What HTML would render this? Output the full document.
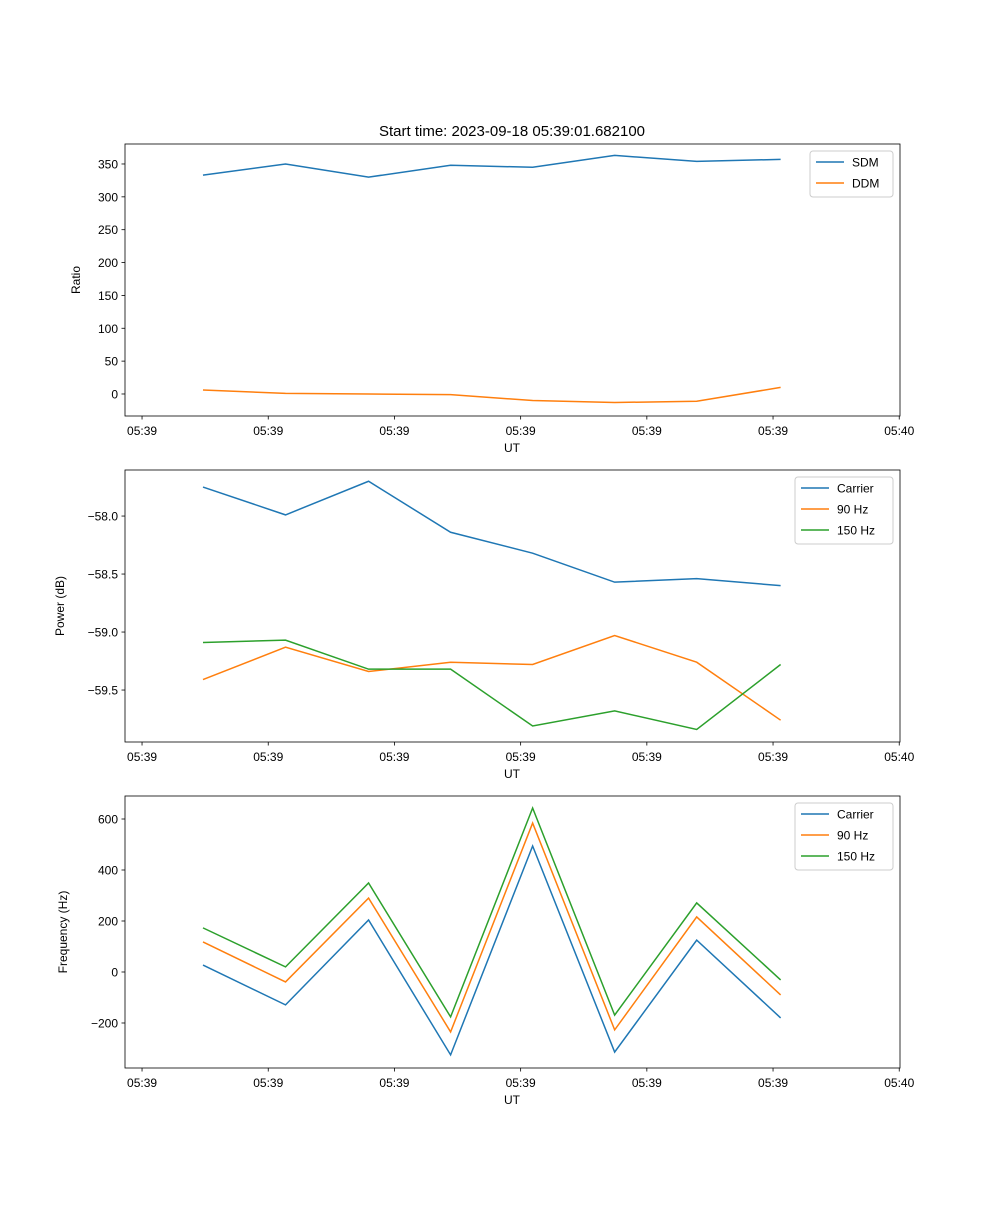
<!DOCTYPE html>
<html><head><meta charset="utf-8"><style>
body{margin:0;background:#fff}
svg{font-family:"Liberation Sans","DejaVu Sans",sans-serif}
</style></head><body>
<svg id="fig" width="1000" height="1200" xmlns="http://www.w3.org/2000/svg">
<rect width="1000" height="1200" fill="#fff"/>
<text x="512" y="136" font-size="15" text-anchor="middle">Start time: 2023-09-18 05:39:01.682100</text>
</svg>
<script>
const times = [1.483, 2.137, 2.795, 3.445, 4.095, 4.745, 5.395, 6.06];
const xTicks = [1, 2, 3, 4, 5, 6, 7];
const xTickLabels = ["05:39","05:39","05:39","05:39","05:39","05:39","05:40"];
const sdm = [333, 350, 330, 348, 345, 363, 354, 357];
const ddm = [6, 1, 0, -1, -10, -13, -11, 10];
const powCarrier = [-57.75, -57.99, -57.70, -58.14, -58.32, -58.57, -58.54, -58.60];
const pow90 = [-59.41, -59.13, -59.34, -59.26, -59.28, -59.03, -59.26, -59.76];
const pow150 = [-59.09, -59.07, -59.32, -59.32, -59.81, -59.68, -59.84, -59.28];
const freqCarrier = [27, -129, 204, -325, 494, -314, 125, -180];
const freq90 = [118, -39, 290, -235, 584, -227, 216, -90];
const freq150 = [173, 20, 349, -176, 643, -169, 271, -31];
const ticks1 = [0, 50, 100, 150, 200, 250, 300, 350];
const ticks2 = [-58.0, -58.5, -59.0, -59.5];
const ticks3 = [-200, 0, 200, 400, 600];

const NS = "http://www.w3.org/2000/svg";
const svg = document.getElementById("fig");
const L = 125, R = 900, X0 = 0.865, X1 = 7.006;
const xs = t => L + (t - X0) / (X1 - X0) * (R - L);
function mk(tag, attrs, parent) {
  const e = document.createElementNS(NS, tag);
  for (const k in attrs) e.setAttribute(k, attrs[k]);
  (parent || svg).appendChild(e);
  return e;
}
const C = ["#1f77b4", "#ff7f0e", "#2ca02c"];
function panel(name, top, y0, y1, yt, yfmt, ylabel, series, names, legend) {
  const bot = top + 272;
  const ys = v => bot - (v - y0) / (y1 - y0) * 272;
  const g = mk("g", {});
  
  
  series.forEach((s, i) => {
    const p = mk("polyline", {points: s.map((v, j) => xs(times[j]) + "," + ys(v)).join(" "), fill: "none", stroke: C[i], "stroke-width": 1.5}, g);
    
    
  });
  const fr = mk("rect", {x: L, y: top, width: R - L, height: 272, fill: "none", stroke: "#000", "stroke-width": 0.8}, g);
  
  
  xTicks.forEach((t, i) => {
    const x = xs(t);
    mk("line", {x1: x, x2: x, y1: bot, y2: bot + 3.5, stroke: "#000", "stroke-width": 0.8}, g);
    const tx = mk("text", {x: x, y: bot + 19, "font-size": 12, "text-anchor": "middle"}, g);
    tx.textContent = xTickLabels[i];
    
    
  });
  yt.forEach(v => {
    const y = ys(v);
    mk("line", {x1: L, x2: L - 3.5, y1: y, y2: y, stroke: "#000", "stroke-width": 0.8}, g);
    const tx = mk("text", {x: L - 7, y: y + 4.5, "font-size": 12, "text-anchor": "end"}, g);
    tx.textContent = yfmt(v);
    
    
  });
  const xl = mk("text", {x: 512, y: bot + 36, "font-size": 12, "text-anchor": "middle"}, g);
  xl.textContent = "UT";
  
  
  const yx = legend.ylx, yy = top + 136;
  const yl = mk("text", {x: yx, y: yy, "font-size": 12, "text-anchor": "middle", transform: "rotate(-90 " + yx + " " + yy + ")"}, g);
  yl.textContent = ylabel;
  
  
  const lg = mk("g", {}, g);
  
  
  mk("rect", {x: legend.x, y: top + 7, width: 893 - legend.x, height: names.length * 21 + 4, rx: 3, fill: "#fff", "fill-opacity": 0.8, stroke: "#ccc"}, lg);
  names.forEach((n, i) => {
    const y = top + 18 + i * 21;
    mk("line", {x1: legend.x + 6, x2: legend.x + 34, y1: y, y2: y, stroke: C[i], "stroke-width": 1.5}, lg);
    const t = mk("text", {x: legend.x + 42, y: y + 4.5, "font-size": 12}, lg);
    t.textContent = n;
    
    
  });
}
panel("ratio", 144, -33.5, 380.4, ticks1, v => String(v), "Ratio", [sdm, ddm], ["SDM", "DDM"], {x: 810, ylx: 80});
panel("power", 470, -59.948, -57.603, ticks2, v => "\u2212" + Math.abs(v).toFixed(1), "Power (dB)", [powCarrier, pow90, pow150], ["Carrier", "90 Hz", "150 Hz"], {x: 795, ylx: 64});
panel("frequency", 796, -376.5, 690.2, ticks3, v => (v < 0 ? "\u2212" : "") + Math.abs(v), "Frequency (Hz)", [freqCarrier, freq90, freq150], ["Carrier", "90 Hz", "150 Hz"], {x: 795, ylx: 67});
</script>
</body></html>
